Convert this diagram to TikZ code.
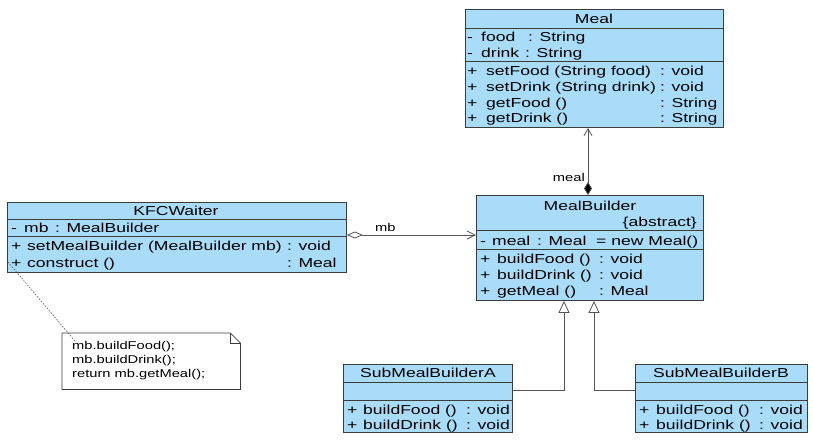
\documentclass[tikz,border=0pt]{standalone}
\usepackage{fontspec}
\setmainfont{Liberation Sans}[FakeStretch=1.35]
\newfontfamily\notefont{Liberation Sans}[FakeStretch=1.3]
\usetikzlibrary{arrows.meta}
\definecolor{umlblue}{RGB}{168,220,248}
\definecolor{lineg}{RGB}{60,60,60}
\definecolor{conng}{RGB}{85,85,85}
\begin{document}
\begin{tikzpicture}[x=1pt,y=-1pt,
  cls/.style={draw=lineg, fill=umlblue, line width=0.9pt, inner sep=0, anchor=north west},
  sepl/.style={draw=lineg, line width=0.8pt},
  tx/.style={inner sep=0, anchor=base west, font=\fontsize{13}{15}\selectfont},
  tc/.style={inner sep=0, anchor=base, font=\fontsize{13}{15}\selectfont},
  te/.style={inner sep=0, anchor=base east, font=\fontsize{13}{15}\selectfont},
  nt/.style={inner sep=0, anchor=base west, font=\notefont\fontsize{11.3}{13}\selectfont},
  conn/.style={draw=conng, line width=0.8pt},
  notebox/.style={draw=lineg, fill=white, line width=0.8pt}
]
\fill[white] (0,0) rectangle (813,445);
\useasboundingbox (0,0) rectangle (813,445);

% ---------------- Meal ----------------
\node[cls, minimum width=258pt, minimum height=118pt] (meal) at (465,9) {};
\draw[sepl] (465,28) -- (723,28);
\draw[sepl] (465,61) -- (723,61);
\node[tc] (mealT) at (594,23) {Meal};
\node[tx] (m1a) at (467,41) {-};
\node[tx] (m1b) at (481,41) {food};
\node[tx] (m1c) at (528,41) {: String};
\node[tx] (m2a) at (467,57) {-};
\node[tx] (m2b) at (481,57) {drink};
\node[tx] (m2c) at (525,57) {: String};
\node[tx] (m3a) at (467,75) {+};
\node[tx] (m3b) at (486,75) {setFood (String food)};
\node[tx] (m3c) at (660,75) {: void};
\node[tx] (m4a) at (467,91) {+};
\node[tx] (m4b) at (486,91) {setDrink (String drink)};
\node[tx] (m4c) at (660,91) {: void};
\node[tx] (m5a) at (467,107) {+};
\node[tx] (m5b) at (486,107) {getFood ()};
\node[tx] (m5c) at (660,107) {: String};
\node[tx] (m6a) at (467,122) {+};
\node[tx] (m6b) at (486,122) {getDrink ()};
\node[tx] (m6c) at (660,122) {: String};

% ---------------- KFCWaiter ----------------
\node[cls, minimum width=339pt, minimum height=70pt] (kfc) at (7,202) {};
\draw[sepl] (7,219) -- (346,219);
\draw[sepl] (7,236) -- (346,236);
\node[tc] (kfcT) at (176,215) {KFCWaiter};
\node[tx] (k1a) at (11,232) {-};
\node[tx] (k1b) at (24,232) {mb};
\node[tx] (k1c) at (55,232) {: MealBuilder};
\node[tx] (k2a) at (11,250) {+};
\node[tx] (k2b) at (27,250) {setMealBuilder (MealBuilder mb)};
\node[tx] (k2c) at (287,250) {: void};
\node[tx] (k3a) at (11,267) {+};
\node[tx] (k3b) at (27,267) {construct ()};
\node[tx] (k3c) at (287,267) {: Meal};

% ---------------- MealBuilder ----------------
\node[cls, minimum width=227pt, minimum height=105pt] (mbuilder) at (476,195) {};
\draw[sepl] (476,230) -- (703,230);
\draw[sepl] (476,249) -- (703,249);
\node[tc] (mbT) at (590,210) {MealBuilder};
\node[te] (mbAbs) at (697,226) {\{abstract\}};
\node[tx] (b1a) at (480,245) {-};
\node[tx] (b1b) at (492,245) {meal};
\node[tx] (b1c) at (537,245) {: Meal};
\node[tx] (b1d) at (596,245) {= new Meal()};
\node[tx] (b2a) at (480,263) {+};
\node[tx] (b2b) at (497,263) {buildFood ()};
\node[tx] (b2c) at (599,263) {: void};
\node[tx] (b3a) at (480,279) {+};
\node[tx] (b3b) at (497,279) {buildDrink ()};
\node[tx] (b3c) at (599,279) {: void};
\node[tx] (b4a) at (480,295) {+};
\node[tx] (b4b) at (497,295) {getMeal ()};
\node[tx] (b4c) at (599,295) {: Meal};

% ---------------- SubMealBuilderA ----------------
\node[cls, minimum width=169pt, minimum height=68pt] (subA) at (343,364) {};
\draw[sepl] (343,382) -- (512,382);
\draw[sepl] (343,400) -- (512,400);
\node[tc] (saT) at (428,377) {SubMealBuilderA};
\node[tx] (a1a) at (347,414) {+};
\node[tx] (a1b) at (363,414) {buildFood ()};
\node[tx] (a1c) at (466,414) {: void};
\node[tx] (a2a) at (347,429) {+};
\node[tx] (a2b) at (363,429) {buildDrink ()};
\node[tx] (a2c) at (466,429) {: void};

% ---------------- SubMealBuilderB ----------------
\node[cls, minimum width=172pt, minimum height=68pt] (subB) at (635,364) {};
\draw[sepl] (635,382) -- (807,382);
\draw[sepl] (635,400) -- (807,400);
\node[tc] (sbT) at (721,377) {SubMealBuilderB};
\node[tx] (c1a) at (639,414) {+};
\node[tx] (c1b) at (656,414) {buildFood ()};
\node[tx] (c1c) at (759,414) {: void};
\node[tx] (c2a) at (639,429) {+};
\node[tx] (c2b) at (656,429) {buildDrink ()};
\node[tx] (c2c) at (759,429) {: void};

% ---------------- Note ----------------
\node[inner sep=0, minimum width=178pt, minimum height=56pt, anchor=north west] (note) at (62,333) {};
\draw[notebox] (note.north west) -- ([xshift=-10pt]note.north east) -- ([yshift=-10pt]note.north east) -- (note.south east) -- (note.south west) -- cycle;
\draw[notebox, fill=none] ([xshift=-10pt]note.north east) -- ([xshift=-10pt,yshift=-10pt]note.north east) -- ([yshift=-10pt]note.north east);
\node[nt] (n1) at (72,349) {mb.buildFood();};
\node[nt] (n2) at (72,363) {mb.buildDrink();};
\node[nt] (n3) at (72,377) {return mb.getMeal();};
\coordinate (nstart) at (8,262);
\coordinate (nend) at (75,341);
\draw[draw=conng, line width=0.6pt, dash pattern=on 1.5pt off 1.5pt] (nstart) -- (nend);

% ---------------- Connectors ----------------
\coordinate (mx) at (588,0);
\draw[conn, {Diamond[length=13pt,width=8pt,fill=black]}-{Straight Barb[length=7pt,width=8pt]}]
  (mbuilder.north -| mx) -- (meal.south -| mx);
\node[inner sep=0, anchor=base east, font=\notefont\fontsize{11.3}{13}\selectfont] (lmeal) at (585,181) {meal};

\coordinate (ly) at (0,235);
\draw[conn, {Diamond[open,length=16pt,width=7pt,fill=white]}-{Straight Barb[length=8pt,width=8pt]}]
  (kfc.east |- ly) -- (mbuilder.west |- ly);
\node[inner sep=0, anchor=base west, font=\notefont\fontsize{11.3}{13}\selectfont] (lmb) at (375,231) {mb};

\coordinate (ax) at (564,0);
\coordinate (bx) at (594,0);
\coordinate (gy) at (0,390);
\draw[conn, -{Triangle[open,length=12pt,width=11pt,fill=white]}]
  (subA.east |- gy) -- (ax |- gy) -- (mbuilder.south -| ax);
\draw[conn, -{Triangle[open,length=12pt,width=11pt,fill=white]}]
  (subB.west |- gy) -- (bx |- gy) -- (mbuilder.south -| bx);
\end{tikzpicture}
\end{document}
